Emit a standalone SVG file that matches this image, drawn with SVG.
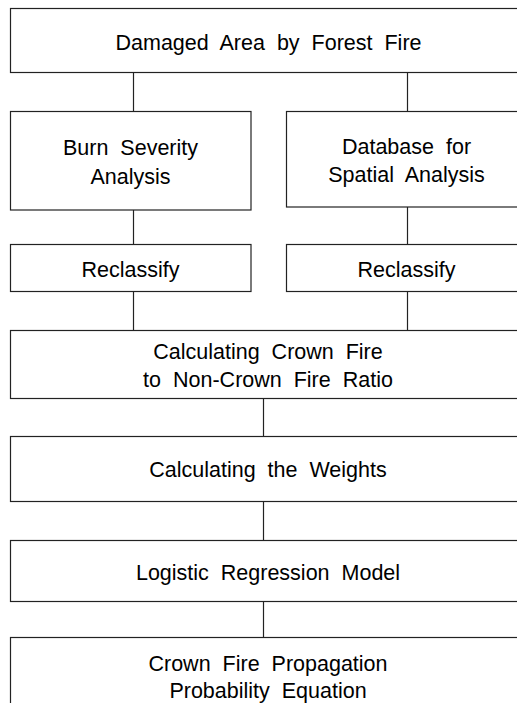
<svg xmlns="http://www.w3.org/2000/svg" width="517" height="703" viewBox="0 0 517 703">
<style>
.box{fill:#fff;stroke:#222;stroke-width:1.2}
.ln{stroke:#222;stroke-width:1.2;fill:none}
.t{font-family:"Liberation Sans",Arial,sans-serif;font-size:21.5px;fill:#000;text-anchor:middle;word-spacing:6px}
</style>
<rect width="517" height="703" fill="#fff"/>
<g id="connectors">
<line class="ln" x1="133.5" y1="72" x2="133.5" y2="112"/>
<line class="ln" x1="407.5" y1="72" x2="407.5" y2="112"/>
<line class="ln" x1="133.5" y1="210" x2="133.5" y2="244"/>
<line class="ln" x1="407.5" y1="207" x2="407.5" y2="244"/>
<line class="ln" x1="133.5" y1="292" x2="133.5" y2="330"/>
<line class="ln" x1="407.5" y1="292" x2="407.5" y2="330"/>
<line class="ln" x1="263.5" y1="398" x2="263.5" y2="437"/>
<line class="ln" x1="263.5" y1="502" x2="263.5" y2="541"/>
<line class="ln" x1="263.5" y1="602" x2="263.5" y2="638"/>
</g>
<g id="n1"><rect class="box" x="10.5" y="8.5" width="517" height="64"/><text class="t" x="268.5" y="49.5">Damaged Area by Forest Fire</text></g>
<g id="n2"><rect class="box" x="10.5" y="111.5" width="240.5" height="98.5"/><text class="t" x="130.5" y="155">Burn Severity</text><text class="t" x="130.5" y="183.5">Analysis</text></g>
<g id="n3"><rect class="box" x="286.5" y="111.5" width="241" height="95.5"/><text class="t" x="406.5" y="154">Database for</text><text class="t" x="406.5" y="182">Spatial Analysis</text></g>
<g id="n4"><rect class="box" x="10.5" y="244.5" width="240.5" height="47"/><text class="t" x="130.5" y="276.5">Reclassify</text></g>
<g id="n5"><rect class="box" x="286.5" y="244.5" width="241" height="47"/><text class="t" x="406.5" y="276.5">Reclassify</text></g>
<g id="n6"><rect class="box" x="10.5" y="330.5" width="517" height="68"/><text class="t" x="268" y="358.5">Calculating Crown Fire</text><text class="t" x="268" y="387">to Non-Crown Fire Ratio</text></g>
<g id="n7"><rect class="box" x="10.5" y="436.5" width="517" height="65"/><text class="t" x="268" y="477">Calculating the Weights</text></g>
<g id="n8"><rect class="box" x="10.5" y="540.5" width="517" height="61"/><text class="t" x="268" y="579.5">Logistic Regression Model</text></g>
<g id="n9"><rect class="box" x="10.5" y="637.5" width="517" height="80"/><text class="t" x="268" y="671">Crown Fire Propagation</text><text class="t" x="268" y="697.5">Probability Equation</text></g>
</svg>
